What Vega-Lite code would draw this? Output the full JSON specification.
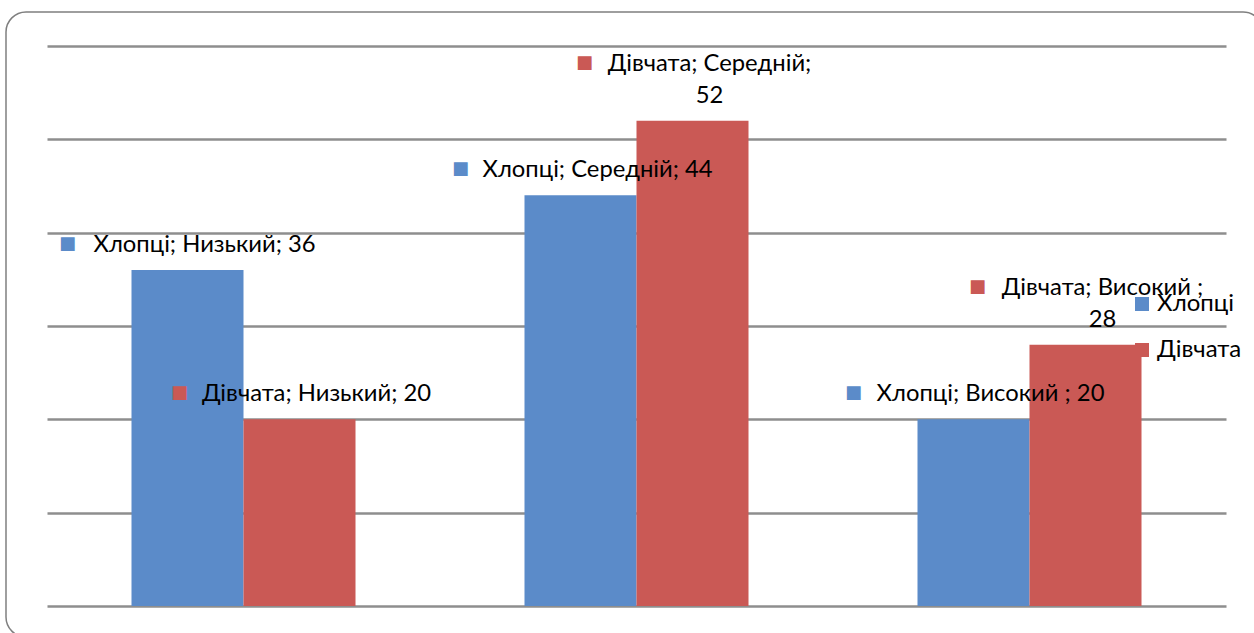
{
  "$schema": "https://vega.github.io/schema/vega-lite/v6.json",
  "autosize": "none",
  "width": 1257,
  "height": 625,
  "padding": {"left": 6, "top": 12, "right": -9, "bottom": -4},
  "background": "white",
  "config": {
    "view": {"stroke": "#7f7f7f", "strokeWidth": 1.5, "cornerRadius": 20},
    "font": "Lato"
  },
  "data": {
    "values": [
      {"level": "Низький", "series": "Хлопці", "value": 36, "label": "Хлопці; Низький; 36"},
      {"level": "Низький", "series": "Дівчата", "value": 20, "label": "Дівчата; Низький; 20"},
      {"level": "Середній", "series": "Хлопці", "value": 44, "label": "Хлопці; Середній; 44"},
      {"level": "Середній", "series": "Дівчата", "value": 52, "label": ["Дівчата; Середній;", "52"]},
      {"level": "Високий", "series": "Хлопці", "value": 20, "label": "Хлопці; Високий ; 20"},
      {"level": "Високий", "series": "Дівчата", "value": 28, "label": ["Дівчата; Високий ;", "28"]}
    ]
  },
  "encoding": {
    "x": {
      "field": "level", "type": "nominal",
      "sort": ["Низький", "Середній", "Високий"],
      "scale": {"range": [41, 1220], "paddingInner": 0.43, "paddingOuter": 0.215},
      "axis": null
    },
    "xOffset": {"field": "series", "type": "nominal", "sort": ["Хлопці", "Дівчата"]},
    "y": {
      "field": "value", "type": "quantitative",
      "scale": {"domain": [0, 60], "range": [594, 34], "nice": false},
      "axis": {
        "values": [0, 10, 20, 30, 40, 50, 60],
        "labels": false, "ticks": false, "domain": false, "title": null,
        "grid": true, "gridColor": "#8e8e8e", "gridWidth": 2.5
      }
    },
    "color": {
      "field": "series", "type": "nominal",
      "scale": {"domain": ["Хлопці", "Дівчата"], "range": ["#5B8BC9", "#CA5955"]},
      "legend": {
        "title": null, "orient": "none", "legendX": 1124, "legendY": 280,
        "symbolType": "square", "symbolSize": 196, "symbolStrokeWidth": 0,
        "labelFontSize": 24, "labelFont": "Lato", "labelColor": "#000000",
        "labelOffset": 3, "rowPadding": 22, "padding": 0
      }
    }
  },
  "layer": [
    {"mark": {"type": "bar"}},
    {
      "transform": [{"filter": "!isArray(datum.label)"}],
      "mark": {"type": "text", "align": "center", "baseline": "alphabetic", "dx": 17, "dy": -18, "fontSize": 23.8, "font": "Lato", "color": "#000000"},
      "encoding": {"text": {"field": "label"}, "color": {"value": "#000000"}}
    },
    {
      "transform": [{"filter": "isArray(datum.label)"}],
      "mark": {"type": "text", "align": "center", "baseline": "alphabetic", "dx": 17, "dy": -50, "lineHeight": 32, "fontSize": 23.8, "font": "Lato", "color": "#000000"},
      "encoding": {"text": {"field": "label"}, "color": {"value": "#000000"}}
    },
    {
      "transform": [{"filter": "!isArray(datum.label)"}],
      "mark": {"type": "text", "text": "■", "align": "center", "baseline": "middle", "dx": -120, "dy": -26, "fontSize": 18, "font": "DejaVu Sans"}
    },
    {
      "transform": [{"filter": "isArray(datum.label)"}],
      "mark": {"type": "text", "text": "■", "align": "center", "baseline": "middle", "dx": -108, "dy": -58, "fontSize": 18, "font": "DejaVu Sans"}
    }
  ]
}
